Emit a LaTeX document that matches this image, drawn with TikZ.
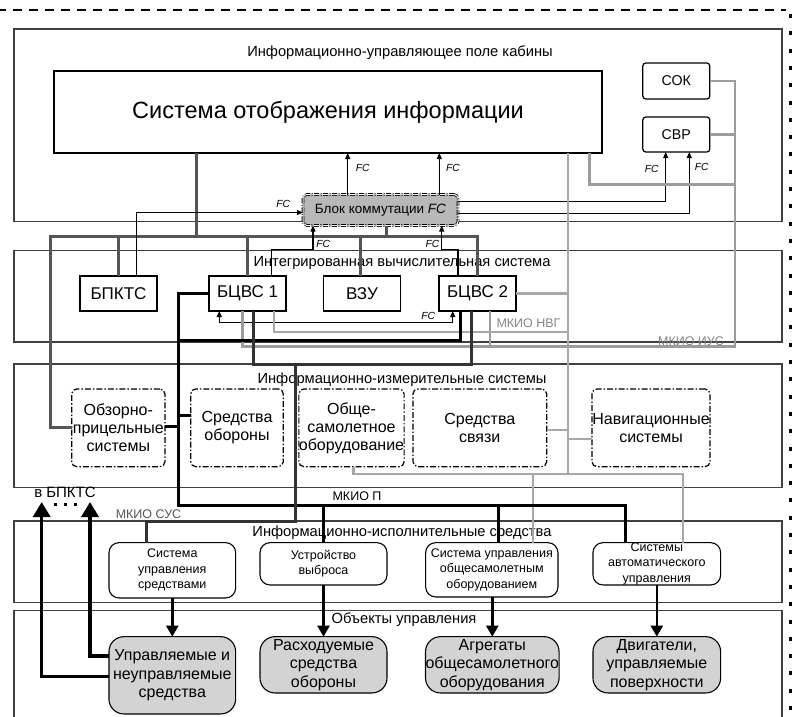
\documentclass[tikz,border=0pt]{standalone}
\usepackage{fontspec}
\setmainfont{Liberation Sans}
\usetikzlibrary{arrows.meta}

\definecolor{panelc}{HTML}{404040}
\definecolor{dbusc}{HTML}{555555}
\definecolor{iusc}{HTML}{9C9C9C}
\definecolor{nvgc}{HTML}{A8A8A8}
\definecolor{susc}{HTML}{333333}
\definecolor{blokc}{HTML}{B8B8B8}
\definecolor{objc}{HTML}{D3D3D3}

\tikzset{
  panel/.style={draw=panelc, line width=1.1pt},
  ptitle/.style={inner sep=0pt, font=\fontsize{14.7}{17}\selectfont},
  basebox/.style={inner sep=0pt, outer sep=0pt, align=center, fill=white},
  soibox/.style={basebox, draw, line width=2.6pt, font=\fontsize{23.5}{28}\selectfont},
  cabbox/.style={basebox, draw, line width=1.2pt, rounded corners=3pt, font=\fontsize{14.2}{16}\selectfont},
  blokbox/.style={basebox, fill=blokc, draw=black, double=white, double distance=1pt,
    line width=0.8pt, rounded corners=4pt, dash pattern=on 5pt off 1.5pt on 1pt off 1.5pt,
    font=\fontsize{13.5}{16}\selectfont},
  ivsbox/.style={basebox, draw, line width=1.2pt, font=\fontsize{17}{20}\selectfont},
  iisbox/.style={basebox, draw, line width=1.2pt, rounded corners=5pt,
    dash pattern=on 6pt off 2pt on 1.5pt off 2pt, font=\fontsize{16}{18}\selectfont},
  exbox/.style={basebox, draw, line width=1.1pt, rounded corners=10pt, font=\fontsize{12.5}{15.5}\selectfont},
  objbox/.style={basebox, draw, fill=objc, line width=1.1pt, rounded corners=15pt, font=\fontsize{16}{18.5}\selectfont},
  dbus/.style={draw=dbusc, line width=3pt},
  iusbus/.style={draw=iusc, line width=2.5pt},
  nvgbus/.style={draw=nvgc, line width=2.5pt},
  pbus/.style={draw=black, line width=3pt},
  susbus/.style={draw=susc, line width=3pt},
  fcline/.style={draw=black, line width=1.1pt, -{Triangle[length=6pt,width=5pt]}},
  fcboth/.style={draw=black, line width=1.1pt, {Triangle[length=6pt,width=5pt]}-{Triangle[length=6pt,width=5pt]}},
  fclabel/.style={inner sep=0pt, font=\fontsize{10.3}{12}\selectfont\itshape},
  buslabel/.style={inner sep=0pt, font=\fontsize{12.5}{15}\selectfont},
  bigarrow/.style={draw=black, line width=2.4pt, -{Triangle[length=11pt,width=12pt]}},
  bparrow/.style={draw=black, line width=3.4pt, -{Triangle[length=15pt,width=17pt]}}
}

\begin{document}
\begin{tikzpicture}[x=1pt,y=-1pt]
\useasboundingbox (0,0) rectangle (794,716);
\clip (0,0) rectangle (794,716);

% outer dashed frame
\draw[line width=2.4pt, dash pattern=on 9pt off 7pt] (-3,10) -- (786,10);
\draw[line width=3pt, dash pattern=on 4pt off 13.3pt] (790,14) -- (790,724);

% layer panels
\draw[panel] (14,29) rectangle (782,221.7);
\draw[panel] (14,250.7) rectangle (782,342);
\draw[panel] (14,364) rectangle (782,487.7);
\draw[panel] (14,521) rectangle (782,602.7);
\draw[panel] (14,610.7) rectangle (782,740);

\node[ptitle] (t1) at (400,53) {Информационно-управляющее поле кабины};
\node[ptitle] (t2) at (402,263) {Интегрированная вычислительная система};
\node[ptitle] (t3) at (402,380) {Информационно-измерительные системы};
\node[ptitle] (t4) at (402,533) {Информационно-исполнительные средства};
\node[ptitle] (t5) at (404,620) {Объекты управления};

% cabin field
\node[soibox, minimum width=548, minimum height=82] (soi) at (328,112) {Система отображения информации};
\node[cabbox, minimum width=67, minimum height=36] (sok) at (676.3,81) {СОК};
\node[cabbox, minimum width=67, minimum height=35] (svr) at (676.3,134.5) {СВР};
\node[blokbox, minimum width=155, minimum height=31] (blok) at (380.5,210) {Блок коммутации \textit{FC}};

% integrated computing system
\node[ivsbox, minimum width=77, minimum height=35] (bpkts) at (118.5,293.5) {БПКТС};
\node[ivsbox, minimum width=77, minimum height=35] (bcvs1) at (247.5,293.5) {БЦВС 1};
\node[ivsbox, minimum width=77.7, minimum height=35] (vzu) at (362,293.5) {ВЗУ};
\node[ivsbox, minimum width=77, minimum height=35] (bcvs2) at (477.5,293.5) {БЦВС 2};

% information and measuring systems
\node[iisbox, minimum width=93.3, minimum height=77.7] (obz) at (118.3,427.8) {Обзорно-\\прицельные\\системы};
\node[iisbox, minimum width=92.6, minimum height=77.7] (sob) at (237,427.8) {Средства\\обороны};
\node[iisbox, minimum width=97, minimum height=77.7] (oso) at (351.5,427.8) {Обще-\\самолетное\\оборудование};
\node[iisbox, minimum width=133.7, minimum height=77.7] (svz) at (479.8,427.8) {Средства\\связи};
\node[iisbox, minimum width=118, minimum height=77.7] (nav) at (651,427.8) {Навигационные\\системы};

% executive means
\node[exbox, minimum width=126.7, minimum height=55.3] (sus) at (172.3,570.3) {Система\\управления\\средствами};
\node[exbox, minimum width=127, minimum height=42.3] (uvyb) at (323.5,563.8) {Устройство\\выброса};
\node[exbox, minimum width=132.3, minimum height=54.3] (suoso) at (491.8,569.8) {Система управления\\общесамолетным\\оборудованием};
\node[exbox, minimum width=127.7, minimum height=42.3] (sau) at (656.8,563.8) {Системы\\автоматического\\управления};

% controlled objects
\node[objbox, minimum width=126.7, minimum height=77.3] (uns) at (172.3,675.3) {Управляемые и\\неуправляемые\\средства};
\node[objbox, minimum width=127, minimum height=56.3] (rso) at (323.5,664.8) {Расходуемые\\средства\\обороны};
\node[objbox, minimum width=131.3, minimum height=56.3] (agr) at (492.3,664.8) {Агрегаты\\общесамолетного\\оборудования};
\node[objbox, minimum width=127.7, minimum height=56.3] (dvg) at (656.8,664.8) {Двигатели,\\управляемые\\поверхности};

% dark bus of the cabin field and computing system
\draw[dbus] (obz.west) -| (50,236) -| (bcvs2.north);
\draw[dbus] (soi.south -| 196.7,0) -- (196.7,236);
\draw[dbus] (bpkts.north) -- (bpkts.north |- 0,236);
\draw[dbus] (bcvs1.north) -- (bcvs1.north |- 0,236);
\draw[dbus] (vzu.north -| 360,0) -- (360,236);
\draw[dbus] (blok.south -| 386.7,0) -- (386.7,236);

% FC links
\draw[fcline] (bpkts.north -| 136.7,0) |- (blok.west |- 0,212.5);
\draw[fcline] (bcvs1.north -| 271.7,0) |- (313,249.5) -- (blok.south -| 313,0);
\draw[fcline] (bcvs2.north -| 458,0) |- (441.7,249.5) -- (blok.south -| 441.7,0);
\draw[fcline] (blok.north -| 347.7,0) -- (soi.south -| 347.7,0);
\draw[fcline] (blok.north -| 439.3,0) -- (soi.south -| 439.3,0);
\draw[fcline] (blok.east |- 0,201.7) -| (svr.south -| 665.7,0);
\draw[fcline] (blok.east |- 0,213.3) -| (svr.south -| 689.3,0);
\draw[fcboth] (bcvs1.south -| 219.3,0) |- (452.7,322.7) -- (bcvs2.south -| 452.7,0);

\node[fclabel] (fc1) at (283.3,204) {FC};
\node[fclabel] (fc2) at (323.3,244.3) {FC};
\node[fclabel] (fc3) at (432.5,244.3) {FC};
\node[fclabel] (fc4) at (362.7,168) {FC};
\node[fclabel] (fc5) at (453,168) {FC};
\node[fclabel] (fc6) at (651.7,169) {FC};
\node[fclabel] (fc7) at (701.7,166.7) {FC};
\node[fclabel] (fc8) at (428.3,316) {FC};

% MKIO IUS
\draw[iusbus] (sok.east) -| (735,346.7) -| (bcvs1.south -| 242.7,0);
\draw[iusbus] (svr.east) -- (svr.east -| 735,0);
\draw[iusbus] (soi.south -| 589.3,0) |- (735,184.3);
\draw[iusbus] (bcvs2.south -| 490,0) -- (490,346.7);

% MKIO NVG
\draw[nvgbus] (soi.south -| 568,0) -- (568,474);
\draw[nvgbus] (bcvs1.south -| 274,0) |- (568,332);
\draw[nvgbus] (bcvs2.east) -- (bcvs2.east -| 568,0);
\draw[nvgbus] (svz.east |- 0,430) -- (568,430);
\draw[nvgbus] (nav.west |- 0,439) -- (568,439);
\draw[nvgbus] (oso.south -| 353.3,0) |- (683,474) -- (sau.north -| 683,0);
\draw[nvgbus] (533,474) -- (suoso.north -| 533,0);

% MKIO P
\draw[pbus] (bcvs1.west) -| (178.3,505) -| (sau.north -| 625,0);
\draw[pbus] (obz.east |- 0,426) -- (178.3,426);
\draw[pbus] (sob.west |- 0,415) -- (178.3,415);
\draw[pbus] (uvyb.north) -- (uvyb.north |- 0,505);
\draw[pbus] (suoso.north -| 498.3,0) -- (498.3,505);
\draw[pbus] (bcvs2.south -| 460,0) |- (178.3,340.7);

% MKIO SUS
\draw[susbus] (bcvs1.south -| 253.3,0) |- (471.7,364) -- (bcvs2.south -| 471.7,0);
\draw[susbus] (295.7,364) |- (146.7,521) -- (sus.north -| 146.7,0);

% bus labels
\node[buslabel, text=iusc!85!black] (lnvg) at (528.5,322.7) {МКИО НВГ};
\node[buslabel, text=iusc!85!black] (lius) at (691,341) {МКИО ИУС};
\node[buslabel] (lp) at (357,496) {МКИО П};
\node[buslabel, text=dbusc] (lsus) at (148.5,514) {МКИО СУС};

% executive means to controlled objects
\draw[bigarrow] (sus.south) -- (uns.north);
\draw[bigarrow] (uvyb.south) -- (rso.north);
\draw[bigarrow] (suoso.south -| agr.north) -- (agr.north);
\draw[bigarrow] (sau.south) -- (dvg.north);

% feedback to BPKTS
\coordinate (tobp1) at (41.7,502);
\coordinate (tobp2) at (90,502);
\draw[bparrow] (uns.west |- 0,676.7) -| (tobp1);
\draw[bparrow] (uns.west |- 0,656) -| (tobp2);
\draw[line width=3pt, dash pattern=on 3pt off 7pt] (53.5,504.3) -- (78,504.3);
\node[inner sep=0pt, font=\fontsize{15}{18}\selectfont] (lbp) at (65,492) {в БПКТС};

\end{tikzpicture}
\end{document}
